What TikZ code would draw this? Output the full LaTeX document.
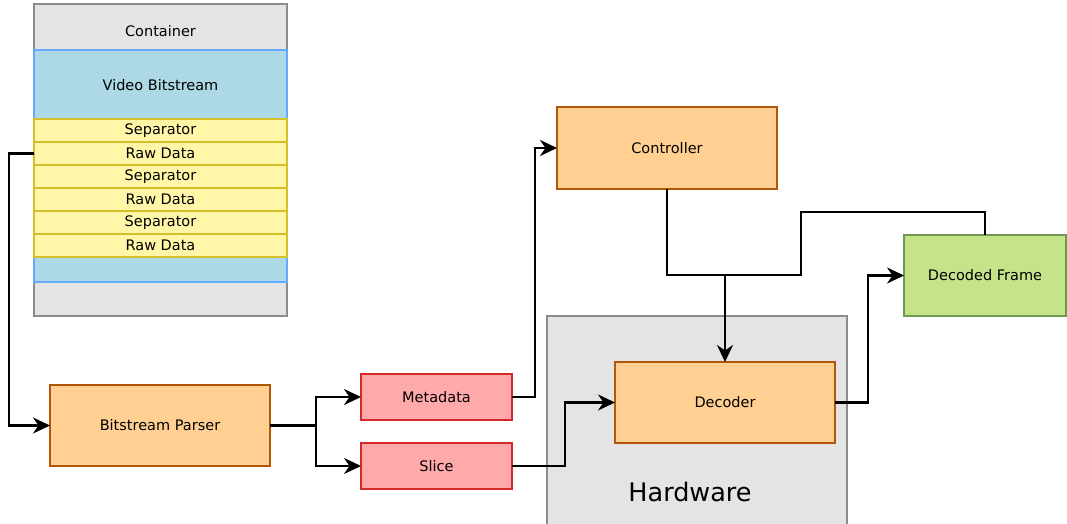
\documentclass[tikz,border=0pt]{standalone}
\usepackage{fontspec}
\setmainfont{DejaVu Sans}
\usetikzlibrary{arrows.meta}
\definecolor{cgray}{HTML}{E4E4E4}
\definecolor{cgraydk}{HTML}{8C8C8C}
\definecolor{cblue}{HTML}{ADD8E6}
\definecolor{cbluedk}{HTML}{66AAFF}
\definecolor{cyel}{HTML}{FFF6A8}
\definecolor{cyeldk}{HTML}{D4C02A}
\definecolor{corg}{HTML}{FFD091}
\definecolor{corgdk}{HTML}{B2560A}
\definecolor{cred}{HTML}{FFAAAA}
\definecolor{creddk}{HTML}{D42A2A}
\definecolor{cgrn}{HTML}{C5E48A}
\definecolor{cgrndk}{HTML}{6E9A50}
\tikzset{
  box/.style={rectangle, inner sep=0pt, outer sep=0pt, line width=2.2pt, font=\fontsize{14.5}{17}\selectfont},
  graybox/.style={box, fill=cgray, draw=cgraydk},
  bluebox/.style={box, fill=cblue, draw=cbluedk},
  yelbox/.style={box, fill=cyel, draw=cyeldk, minimum width=253pt, minimum height=23pt},
  orgbox/.style={box, fill=corg, draw=corgdk},
  redbox/.style={box, fill=cred, draw=creddk, minimum width=151pt, minimum height=46pt},
  grnbox/.style={box, fill=cgrn, draw=cgrndk},
  txt/.style={inner sep=0pt, font=\fontsize{14.5}{17}\selectfont},
  conn/.style={line width=2.4pt, black},
  arr/.style={conn, -{Stealth[length=17pt, width=16pt, inset=5.5pt]}},
}
\begin{document}
\begin{tikzpicture}[x=1pt,y=-1pt]
\useasboundingbox (0,0) rectangle (1067,524);
% container
\node[graybox, minimum width=253pt, minimum height=312pt] (container) at (160.5,160) {};
\node[txt] (containerlabel) at (160.5,31) {Container};
\node[bluebox, minimum width=253pt, minimum height=232pt] (video) at (160.5,166) {};
\node[txt] (videolabel) at (160.5,85) {Video Bitstream};
\node[yelbox] (r1) at (160.5,130.5) {Separator};
\node[yelbox] (r2) at (160.5,153.5) {Raw Data};
\node[yelbox] (r3) at (160.5,176.5) {Separator};
\node[yelbox] (r4) at (160.5,199.5) {Raw Data};
\node[yelbox] (r5) at (160.5,222.5) {Separator};
\node[yelbox] (r6) at (160.5,245.5) {Raw Data};
% hardware
\node[graybox, minimum width=300pt, minimum height=210pt] (hw) at (697,421) {};
\node[inner sep=0pt, font=\fontsize{25.5}{30}\selectfont] (hwlabel) at (690,492) {Hardware};
% boxes
\node[orgbox, minimum width=220pt, minimum height=81pt] (parser) at (160,425.5) {Bitstream Parser};
\node[redbox] (meta) at (436.5,397) {Metadata};
\node[redbox] (slice) at (436.5,466) {Slice};
\node[orgbox, minimum width=220pt, minimum height=82pt] (ctrl) at (667,148) {Controller};
\node[orgbox, minimum width=220pt, minimum height=81pt] (dec) at (725,402.5) {Decoder};
\node[grnbox, minimum width=162pt, minimum height=81pt] (frame) at (985,275.5) {Decoded Frame};
% connectors
\coordinate (split) at (316,425.5);
\coordinate (join) at (725,275);
\draw[arr] (r2.west) -- ++(-25,0) |- (parser.west);
\draw[conn] (parser.east) -- (split);
\draw[arr] (split) |- (meta.west);
\draw[arr] (split) |- (slice.west);
\draw[arr] (meta.east) -- ++(23,0) |- (ctrl.west);
\draw[conn] (ctrl.south) |- (join);
\draw[conn] (frame.north) -- ++(0,-23) -| (801,275) -- (join);
\draw[arr] (join) -- (dec.north);
\draw[arr] (slice.east) -- ++(53,0) |- (dec.west);
\draw[arr] (dec.east) -- ++(33,0) |- (frame.west);
\end{tikzpicture}
\end{document}
